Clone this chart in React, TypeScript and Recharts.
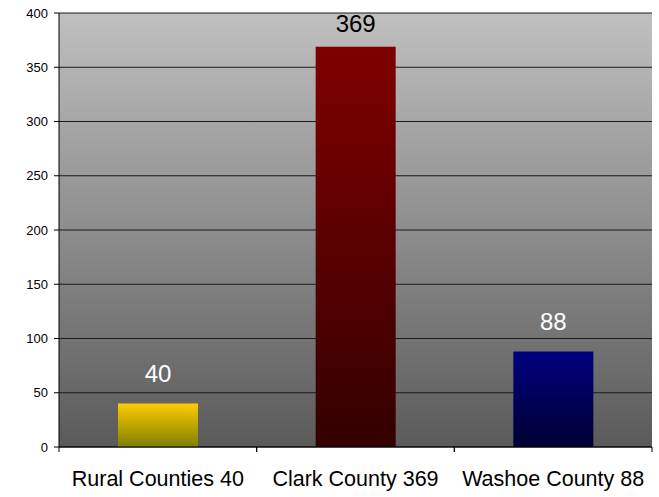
import { BarChart, Bar, XAxis, YAxis, CartesianGrid, Cell, LabelList } from 'recharts';

const categories = ['Rural Counties 40', 'Clark County 369', 'Washoe County 88'];
const counts = [40, 369, 88];
const yTicks = [0, 50, 100, 150, 200, 250, 300, 350, 400];

const GRADIENTS = [
  { id: 'rural', top: '#ffcc00', bottom: '#7f7f00' },
  { id: 'clark', top: '#800000', bottom: '#330000' },
  { id: 'washoe', top: '#000080', bottom: '#000033' },
];
const LABEL_COLORS = ['#ffffff', '#000000', '#ffffff'];
const FONT = '"Liberation Sans", Arial, sans-serif';

const data = categories.map((name, i) => ({ name, value: counts[i] }));

function CategoryTick(props: any) {
  const { x, y, payload, width } = props;
  const band = width / categories.length;
  return (
    <g>
      <line x1={x - band / 2} x2={x - band / 2} y1={y - 8} y2={y - 3} stroke="#000" />
      <line x1={x + band / 2} x2={x + band / 2} y1={y - 8} y2={y - 3} stroke="#000" />
      <text x={x} y={y + 31} textAnchor="middle" fontSize={21.5} fill="#000" fontFamily={FONT}>
        {payload.value}
      </text>
    </g>
  );
}

function ValueLabel(props: any) {
  const { x, y, width, value, index } = props;
  // baseline sits ~22px above the bar, but is kept inside the plot area
  const baseline = Math.max(y - 22, 32);
  return (
    <text
      x={x + width / 2}
      y={baseline}
      textAnchor="middle"
      fontSize={24}
      fill={LABEL_COLORS[index]}
      fontFamily={FONT}
    >
      {value}
    </text>
  );
}

export default function App() {
  return (
    <div style={{ position: 'absolute', left: 0, top: 0, fontFamily: FONT }}>
      <BarChart
        width={659}
        height={497}
        data={data}
        margin={{ top: 13, right: 7, bottom: 0, left: 0 }}
      >
        <defs>
          <linearGradient id="bg" x1="0" y1="0" x2="0" y2="1">
            <stop offset="0%" stopColor="#c0c0c0" />
            <stop offset="100%" stopColor="#5a5a5a" />
          </linearGradient>
          {GRADIENTS.map((g) => (
            <linearGradient key={g.id} id={g.id} x1="0" y1="0" x2="0" y2="1">
              <stop offset="0%" stopColor={g.top} />
              <stop offset="100%" stopColor={g.bottom} />
            </linearGradient>
          ))}
        </defs>
        <CartesianGrid vertical={false} stroke="#1a1a1a" fill="url(#bg)" />
        <XAxis
          dataKey="name"
          height={50}
          tickLine={false}
          axisLine={{ stroke: '#000' }}
          tick={<CategoryTick />}
          interval={0}
        />
        <YAxis
          width={59}
          domain={[0, 400]}
          ticks={yTicks}
          tickSize={5}
          tickMargin={6}
          axisLine={{ stroke: '#000' }}
          tickLine={{ stroke: '#000' }}
          tick={{ fill: '#000', fontSize: 13, fontFamily: FONT }}
        />
        <Bar dataKey="value" barSize={80} isAnimationActive={false}>
          {data.map((d, i) => (
            <Cell key={d.name} fill={`url(#${GRADIENTS[i].id})`} />
          ))}
          <LabelList dataKey="value" content={<ValueLabel />} />
        </Bar>
      </BarChart>
    </div>
  );
}
